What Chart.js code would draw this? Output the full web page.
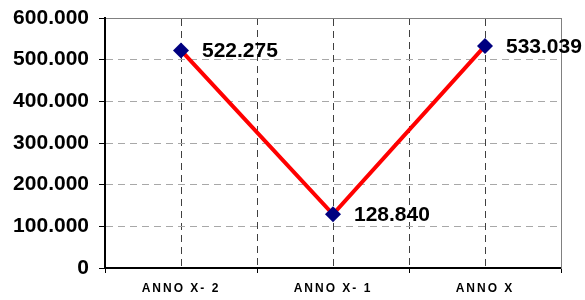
<!DOCTYPE html>
<html>
<head>
<meta charset="utf-8">
<script src="https://cdn.jsdelivr.net/npm/chart.js@4/dist/chart.umd.min.js"></script>
<style>
  html, body { margin: 0; padding: 0; background: #fff; }
  #wrap { width: 585px; height: 300px; position: relative; }
</style>
</head>
<body>
<div id="wrap"><canvas id="c" width="585" height="300"></canvas></div>
<script>
const categories = ["ANNO X- 2", "ANNO X- 1", "ANNO X"];
const values = [522275, 128840, 533039];
const yTicks = [0, 100000, 200000, 300000, 400000, 500000, 600000];

const FONT = "'Liberation Sans', Arial, sans-serif";

function fmt(v) {
  return String(Math.round(v)).replace(/\B(?=(\d{3})+(?!\d))/g, ".");
}

const letterSpacingPlugin = {
  id: "ls",
  afterDatasetsDraw(chart) { chart.ctx.letterSpacing = "2px"; },
  afterDraw(chart) {
    const ctx = chart.ctx;
    ctx.letterSpacing = "0px";
    const meta = chart.getDatasetMeta(0);
    ctx.save();
    ctx.font = "bold 21px " + FONT;
    ctx.fillStyle = "#000";
    ctx.textAlign = "left";
    ctx.textBaseline = "middle";
    meta.data.forEach((pt, i) => {
      ctx.fillText(fmt(values[i]), pt.x + 21, pt.y + 1);
    });
    ctx.restore();
  }
};

new Chart(document.getElementById("c"), {
  type: "line",
  data: {
    labels: categories,
    datasets: [{
      data: values,
      borderColor: "#ff0000",
      borderWidth: 4,
      pointStyle: "rectRot",
      pointRadius: 8,
      pointHoverRadius: 8,
      pointBackgroundColor: "#000080",
      pointBorderColor: "#000080",
      pointBorderWidth: 0,
      tension: 0,
      clip: false
    }]
  },
  options: {
    responsive: false,
    animation: false,
    events: [],
    layout: { padding: { left: 0, top: 18, right: 24, bottom: 0 } },
    plugins: { legend: { display: false }, tooltip: { enabled: false } },
    scales: {
      x: {
        type: "category",
        position: "bottom",
        offset: true,
        grid: {
          offset: true,
          color: (c) => (c.type === "tick" && c.index > 0) ? "#404040" : "rgba(0,0,0,0)",
          lineWidth: 1,
          drawTicks: true,
          tickLength: 5,
          tickColor: "#000",
          tickWidth: 1,
          tickBorderDash: []
        },
        border: { display: true, color: "#000", width: 2, dash: [7, 5] },
        ticks: {
          z: 1,
          color: "#000",
          padding: 8,
          maxRotation: 0,
          autoSkip: false,
          font: { family: FONT, size: 12, weight: "bold" }
        },
        afterFit(s) { s.height = 32; s.paddingLeft = 0; s.paddingRight = 0; }
      },
      x2: {
        type: "category",
        position: "top",
        offset: true,
        grid: {
          offset: false,
          color: "#404040",
          lineWidth: 1,
          drawTicks: false,
          tickLength: 0
        },
        border: { display: true, color: "#808080", width: 1, dash: [7, 5] },
        ticks: { display: false },
        afterFit(s) { s.height = 0; s.paddingLeft = 0; s.paddingRight = 0; }
      },
      y: {
        type: "linear",
        position: "left",
        min: 0,
        max: 600000,
        afterBuildTicks(s) { s.ticks = yTicks.map(v => ({ value: v })); },
        grid: {
          color: (c) => (c.tick && (c.tick.value === 600000 || c.tick.value === 0)) ? "rgba(0,0,0,0)" : "#a8a8a8",
          lineWidth: 1,
          drawTicks: true,
          tickLength: 6,
          tickColor: "#000",
          tickWidth: 1,
          tickBorderDash: []
        },
        border: { display: true, color: "#000", width: 2, dash: [7, 5] },
        ticks: {
          color: "#000",
          padding: 10,
          font: { family: FONT, size: 21, weight: "bold" },
          callback: (v) => fmt(v)
        },
        afterFit(s) { s.width = 105; s.paddingTop = 0; s.paddingBottom = 0; }
      },
      y2: {
        type: "linear",
        position: "right",
        min: 0,
        max: 600000,
        grid: { display: false, drawTicks: false },
        border: { display: true, color: "#808080", width: 1 },
        ticks: { display: false },
        afterFit(s) { s.width = 0; s.paddingTop = 0; s.paddingBottom = 0; }
      }
    }
  },
  plugins: [letterSpacingPlugin]
});
</script>
</body>
</html>
